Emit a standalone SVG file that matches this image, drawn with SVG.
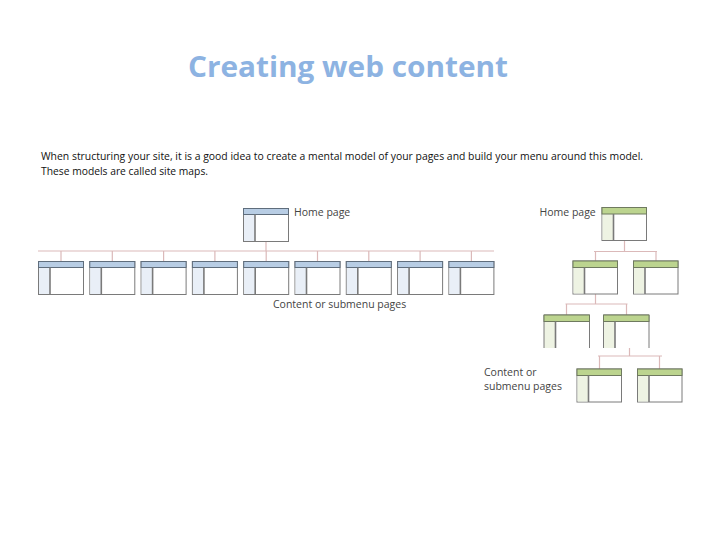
<svg xmlns="http://www.w3.org/2000/svg" xmlns:xlink="http://www.w3.org/1999/xlink" width="720" height="540" viewBox="0 0 720 540">
<style>
.title{font-family:"Open Sans","Noto Sans","Liberation Sans",sans-serif;font-weight:bold;font-size:29px;fill:#8db3e2}
.body{font-family:"Open Sans","Liberation Sans",sans-serif;font-size:10.5px;fill:#111}
.lbl{font-family:"Open Sans","Noto Sans","Liberation Sans",sans-serif;font-size:10.5px;fill:#444}
.conn{stroke:#dbb9b9;stroke-width:1.2;fill:none}
.frame{fill:#fff;stroke:#7a7a7a;stroke-width:1}
.side{stroke:#7a7a7a;stroke-width:1.6}
</style>
<defs>
<g id="blueBox">
<rect class="frame" x="0" y="0" width="45" height="33"/>
<rect x="0.5" y="6" width="11" height="26.5" fill="#e9eff7"/>
<rect x="0" y="0" width="45" height="6" fill="#b8cde4" stroke="#5f6d7c" stroke-width="1"/>
<line class="side" x1="11.5" y1="6" x2="11.5" y2="33"/>
</g>
<g id="greenBox">
<rect class="frame" x="0" y="0" width="44.5" height="33"/>
<rect x="0.5" y="6.5" width="11" height="26" fill="#eef3e3"/>
<rect x="0" y="0" width="44.5" height="6.5" fill="#bcd48f" stroke="#6f7a5f" stroke-width="1"/>
<line class="side" x1="11.5" y1="6.5" x2="11.5" y2="33"/>
</g>
<g id="greenOpen">
<rect x="0" y="6.5" width="11.5" height="26.5" fill="#eef3e3"/>
<path d="M0 33 V0 H45.5 V33" fill="none" stroke="#7a7a7a" stroke-width="1"/>
<rect x="0" y="0" width="45.5" height="6.5" fill="#bcd48f" stroke="#6f7a5f" stroke-width="1"/>
<line class="side" x1="11.5" y1="6.5" x2="11.5" y2="33"/>
</g>
</defs>
<rect width="720" height="540" fill="#fff"/>
<text class="title" x="188" y="77" textLength="320" lengthAdjust="spacingAndGlyphs">Creating web content</text>
<text class="body" x="41" y="160" textLength="602" lengthAdjust="spacingAndGlyphs">When structuring your site, it is a good idea to create a mental model of your pages and build your menu around this model.</text>
<text class="body" x="41" y="175" textLength="167" lengthAdjust="spacingAndGlyphs">These models are called site maps.</text>
<g id="connectors">
<path class="conn" d="M266 241 V251 M38 251 H494 M61 251 V261.5 M112.3 251 V261.5 M163.6 251 V261.5 M214.9 251 V261.5 M266.2 251 V261.5 M317.5 251 V261.5 M368.8 251 V261.5 M420.1 251 V261.5 M471.4 251 V261.5"/>
<path class="conn" d="M624.5 240.5 V251.5 M594 251.5 H657 M595.5 251.5 V261 M656 251.5 V261 M595.5 294 V304 M565.5 304 H627.5 M566.5 304 V315 M626.5 304 V315 M629.5 348 V356 M598 356 H662 M599.5 356 V369 M659.5 356 V369"/>
</g>
<g id="left-home"><use xlink:href="#blueBox" x="243.5" y="208.5"/></g>
<g id="left-p1"><use xlink:href="#blueBox" x="38.5" y="261.5"/></g>
<g id="left-p2"><use xlink:href="#blueBox" x="89.8" y="261.5"/></g>
<g id="left-p3"><use xlink:href="#blueBox" x="141.1" y="261.5"/></g>
<g id="left-p4"><use xlink:href="#blueBox" x="192.4" y="261.5"/></g>
<g id="left-p5"><use xlink:href="#blueBox" x="243.7" y="261.5"/></g>
<g id="left-p6"><use xlink:href="#blueBox" x="295" y="261.5"/></g>
<g id="left-p7"><use xlink:href="#blueBox" x="346.3" y="261.5"/></g>
<g id="left-p8"><use xlink:href="#blueBox" x="397.6" y="261.5"/></g>
<g id="left-p9"><use xlink:href="#blueBox" x="448.9" y="261.5"/></g>
<text class="lbl" x="294" y="216">Home page</text>
<text class="lbl" x="273" y="307.5">Content or submenu pages</text>
<g id="right-home"><use xlink:href="#greenBox" x="602" y="207.5"/></g>
<g id="right-a"><use xlink:href="#greenBox" x="573" y="261"/></g>
<g id="right-b"><use xlink:href="#greenBox" x="633.5" y="261"/></g>
<g id="right-c"><use xlink:href="#greenOpen" x="544" y="315"/></g>
<g id="right-d"><use xlink:href="#greenOpen" x="603.5" y="315"/></g>
<g id="right-e"><use xlink:href="#greenBox" x="577" y="369"/></g>
<g id="right-f"><use xlink:href="#greenBox" x="637.5" y="369"/></g>
<text class="lbl" x="539.5" y="216">Home page</text>
<text class="lbl" x="484" y="376">Content or</text>
<text class="lbl" x="484" y="390">submenu pages</text>
</svg>
